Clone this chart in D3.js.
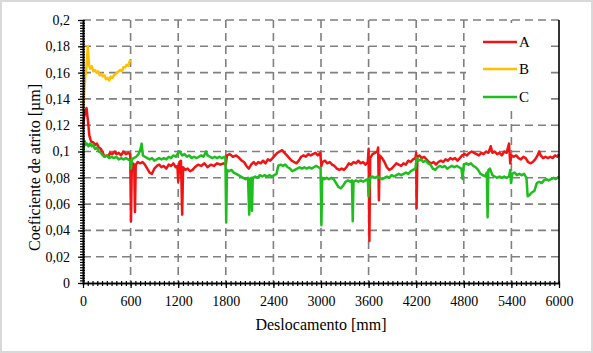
<!DOCTYPE html>
<html>
<head>
<meta charset="utf-8">
<script src="https://cdn.jsdelivr.net/npm/d3@7"></script>
<style>
  body { margin: 0; background: #fff; }
  svg { display: block; }
</style>
</head>
<body>
<svg id="chart" width="593" height="353"></svg>
<script>
// Axis ticks
const xTicks = [0, 600, 1200, 1800, 2400, 3000, 3600, 4200, 4800, 5400, 6000];
const yTicks = [0, 0.02, 0.04, 0.06, 0.08, 0.1, 0.12, 0.14, 0.16, 0.18, 0.2];

// Series names / colours
const seriesNames = ["A", "B", "C"];
const seriesColors = ["#f01414", "#ffc000", "#1ebe1e"];
const FONT = "'Liberation Serif'";

// Series A [deslocamento, coeficiente]
const dataA = [
  [0,0.118],[15,0.126],[30,0.131],[45,0.133],[55,0.127],[65,0.122],[80,0.112],[95,0.109],[110,0.107],
  [130,0.107],[150,0.105],[175,0.106],[200,0.103],[225,0.102],[250,0.099],[270,0.096],[300,0.097],
  [320,0.096],[340,0.099],[370,0.098],[400,0.100],[420,0.098],[450,0.099],[480,0.097],[510,0.100],
  [540,0.098],[570,0.099],[595,0.098],[605,0.047],[615,0.088],[630,0.091],[645,0.090],[655,0.054],
  [665,0.090],[690,0.092],[720,0.091],[750,0.092],[780,0.090],[810,0.087],[840,0.084],[870,0.083],
  [900,0.087],[930,0.089],[960,0.090],[990,0.088],[1020,0.089],[1050,0.087],[1080,0.090],[1110,0.089],
  [1140,0.091],[1170,0.088],[1190,0.089],[1200,0.077],[1215,0.092],[1235,0.093],[1250,0.052],[1262,0.088],
  [1290,0.086],[1320,0.087],[1350,0.085],[1380,0.086],[1410,0.088],[1450,0.090],[1490,0.089],[1530,0.091],
  [1570,0.088],[1610,0.090],[1650,0.089],[1690,0.091],[1730,0.090],[1770,0.091],[1800,0.090],[1815,0.097],
  [1850,0.098],[1890,0.096],[1930,0.097],[1970,0.095],[2000,0.093],[2030,0.092],[2060,0.089],[2090,0.087],
  [2120,0.090],[2150,0.092],[2180,0.090],[2210,0.092],[2240,0.091],[2270,0.093],[2300,0.091],[2330,0.094],
  [2360,0.093],[2390,0.095],[2420,0.097],[2450,0.099],[2480,0.100],[2510,0.101],[2540,0.099],[2570,0.097],
  [2600,0.095],[2630,0.093],[2660,0.092],[2690,0.091],[2720,0.093],[2750,0.096],[2780,0.097],[2810,0.096],
  [2840,0.098],[2870,0.097],[2900,0.098],[2930,0.099],[2960,0.097],[2990,0.099],[3005,0.089],[3020,0.092],
  [3050,0.093],[3080,0.091],[3110,0.092],[3140,0.090],[3170,0.089],[3200,0.087],[3230,0.086],[3260,0.087],
  [3290,0.086],[3320,0.088],[3350,0.091],[3380,0.090],[3410,0.092],[3440,0.091],[3470,0.093],[3500,0.091],
  [3530,0.092],[3560,0.090],[3590,0.092],[3600,0.102],[3610,0.032],[3620,0.095],[3650,0.098],[3680,0.099],
  [3710,0.100],[3720,0.103],[3730,0.063],[3740,0.097],[3770,0.095],[3800,0.092],[3830,0.088],[3860,0.086],
  [3890,0.087],[3920,0.089],[3950,0.091],[3980,0.090],[4010,0.089],[4040,0.091],[4070,0.090],[4100,0.093],
  [4130,0.092],[4160,0.094],[4190,0.095],[4200,0.099],[4205,0.057],[4215,0.096],[4240,0.097],[4270,0.095],
  [4300,0.096],[4330,0.094],[4360,0.092],[4390,0.091],[4420,0.092],[4450,0.090],[4480,0.092],[4510,0.093],
  [4540,0.092],[4570,0.094],[4600,0.093],[4630,0.095],[4660,0.094],[4690,0.095],[4720,0.093],[4750,0.095],
  [4780,0.097],[4810,0.098],[4840,0.097],[4870,0.099],[4900,0.100],[4930,0.099],[4960,0.098],[4990,0.097],
  [5020,0.099],[5050,0.098],[5080,0.100],[5110,0.099],[5140,0.104],[5160,0.099],[5190,0.100],[5220,0.098],
  [5250,0.099],[5280,0.097],[5310,0.100],[5340,0.099],[5370,0.106],[5385,0.091],[5400,0.097],[5430,0.096],
  [5460,0.097],[5490,0.095],[5520,0.094],[5550,0.096],[5580,0.095],[5610,0.092],[5640,0.091],[5670,0.092],
  [5700,0.094],[5730,0.097],[5750,0.100],[5770,0.097],[5800,0.095],[5830,0.096],[5860,0.095],[5890,0.096],
  [5920,0.095],[5950,0.097],[5980,0.096],[6000,0.098]
];

// Series B
const dataB = [
  [0,0.132],[15,0.145],[30,0.158],[45,0.165],[60,0.180],[75,0.166],[90,0.163],[110,0.165],[130,0.161],
  [150,0.162],[170,0.160],[190,0.161],[210,0.158],[230,0.159],[250,0.157],[270,0.158],[290,0.155],
  [310,0.156],[330,0.154],[350,0.157],[370,0.156],[390,0.158],[410,0.159],[430,0.160],[450,0.161],
  [470,0.162],[490,0.161],[510,0.164],[530,0.164],[550,0.166],[570,0.165],[590,0.169],[600,0.168]
];

// Series C
const dataC = [
  [0,0.095],[10,0.104],[20,0.108],[35,0.105],[50,0.106],[70,0.104],[90,0.106],[110,0.104],[130,0.105],
  [150,0.102],[175,0.103],[200,0.100],[225,0.099],[250,0.097],[275,0.096],[300,0.097],[330,0.095],
  [360,0.096],[390,0.095],[420,0.096],[450,0.094],[480,0.095],[510,0.094],[540,0.095],[570,0.094],
  [595,0.093],[605,0.087],[615,0.094],[640,0.095],[670,0.096],[700,0.098],[720,0.101],[740,0.106],
  [755,0.097],[780,0.096],[810,0.095],[840,0.094],[870,0.095],[900,0.093],[930,0.094],[960,0.095],
  [990,0.094],[1020,0.095],[1050,0.094],[1080,0.096],[1110,0.095],[1140,0.097],[1170,0.096],[1200,0.099],
  [1220,0.100],[1250,0.097],[1280,0.098],[1310,0.096],[1340,0.097],[1370,0.095],[1400,0.096],[1430,0.095],
  [1460,0.096],[1490,0.097],[1520,0.096],[1550,0.100],[1570,0.097],[1600,0.096],[1630,0.095],[1660,0.096],
  [1690,0.095],[1720,0.096],[1750,0.095],[1780,0.096],[1795,0.095],[1805,0.046],[1815,0.086],[1840,0.085],
  [1870,0.086],[1900,0.084],[1930,0.083],[1960,0.082],[1990,0.081],[2020,0.080],[2050,0.079],[2080,0.080],
  [2095,0.052],[2105,0.079],[2120,0.080],[2130,0.055],[2140,0.080],[2170,0.081],[2200,0.080],[2230,0.082],
  [2260,0.081],[2290,0.082],[2320,0.081],[2350,0.082],[2380,0.081],[2410,0.082],[2440,0.083],[2460,0.089],
  [2490,0.090],[2520,0.089],[2550,0.090],[2580,0.088],[2610,0.087],[2640,0.085],[2670,0.086],[2700,0.087],
  [2730,0.088],[2760,0.087],[2790,0.088],[2820,0.087],[2850,0.088],[2880,0.087],[2910,0.088],[2940,0.089],
  [2970,0.088],[2995,0.087],[3005,0.044],[3015,0.080],[3040,0.079],[3070,0.080],[3100,0.079],[3130,0.080],
  [3160,0.079],[3190,0.076],[3220,0.073],[3250,0.072],[3280,0.074],[3310,0.077],[3340,0.078],[3370,0.077],
  [3390,0.078],[3400,0.047],[3410,0.077],[3440,0.078],[3470,0.077],[3500,0.078],[3530,0.077],[3560,0.078],
  [3590,0.079],[3600,0.066],[3615,0.080],[3650,0.081],[3680,0.080],[3710,0.081],[3740,0.080],[3770,0.079],
  [3800,0.080],[3830,0.081],[3860,0.080],[3890,0.082],[3920,0.081],[3950,0.082],[3980,0.083],[4010,0.082],
  [4040,0.083],[4070,0.084],[4100,0.083],[4130,0.085],[4160,0.086],[4190,0.087],[4205,0.095],[4230,0.093],
  [4260,0.094],[4290,0.092],[4320,0.093],[4350,0.091],[4380,0.090],[4410,0.087],[4440,0.086],[4470,0.088],
  [4500,0.089],[4530,0.088],[4560,0.089],[4590,0.087],[4620,0.088],[4650,0.089],[4680,0.088],[4710,0.089],
  [4740,0.088],[4770,0.087],[4785,0.079],[4800,0.090],[4830,0.091],[4860,0.090],[4890,0.091],[4920,0.089],
  [4950,0.088],[4980,0.086],[5010,0.083],[5040,0.082],[5070,0.081],[5090,0.084],[5100,0.050],[5110,0.086],
  [5130,0.087],[5160,0.082],[5190,0.081],[5220,0.080],[5250,0.081],[5280,0.080],[5310,0.081],[5340,0.080],
  [5370,0.081],[5385,0.086],[5395,0.076],[5410,0.083],[5440,0.084],[5470,0.082],[5500,0.083],[5530,0.082],
  [5560,0.083],[5590,0.080],[5605,0.066],[5630,0.067],[5660,0.069],[5690,0.070],[5720,0.076],[5750,0.077],
  [5780,0.076],[5810,0.078],[5840,0.079],[5870,0.078],[5900,0.079],[5930,0.080],[5960,0.079],[6000,0.081]
];

const seriesData = [dataA, dataB, dataC];

// Layout
const plot = { left: 83, right: 559, top: 20, bottom: 283 };
const svg = d3.select("#chart");

// Chart border (light gray frame)
svg.append("rect")
  .attr("x", 1).attr("y", 1)
  .attr("width", 591).attr("height", 351)
  .attr("fill", "#fff")
  .attr("stroke", "#d9d9d9")
  .attr("stroke-width", 2);

const x = d3.scaleLinear().domain([0, 6000]).range([plot.left, plot.right]);
const y = d3.scaleLinear().domain([0, 0.2]).range([plot.bottom, plot.top]);

// Gridlines
const grid = svg.append("g")
  .attr("stroke", "#808080")
  .attr("stroke-width", 1.6)
  .attr("stroke-dasharray", "8,5");

grid.selectAll(".hg")
  .data(yTicks.filter(d => d > 0))
  .join("line")
  .attr("x1", plot.left).attr("x2", plot.right)
  .attr("y1", d => y(d)).attr("y2", d => y(d));

grid.selectAll(".vg")
  .data(xTicks.filter(d => d > 0 && d < 6000))
  .join("line")
  .attr("x1", d => x(d)).attr("x2", d => x(d))
  .attr("y1", plot.top).attr("y2", plot.bottom);

// Legend background (covers the grid)
svg.append("rect")
  .attr("x", 466).attr("y", 23)
  .attr("width", 80).attr("height", 85)
  .attr("fill", "#fff");

// Lines
const line = d3.line()
  .x(d => x(d[0]))
  .y(d => y(d[1]));

svg.append("g")
  .selectAll("path")
  .data(seriesData)
  .join("path")
  .attr("d", line)
  .attr("fill", "none")
  .attr("stroke", (d, i) => seriesColors[i])
  .attr("stroke-width", 2.5)
  .attr("stroke-linejoin", "round");

// Axes
const fmtY = d => d === 0 ? "0" : String(+d.toFixed(2)).replace(".", ",");

const yAxis = svg.append("g")
  .attr("transform", `translate(${plot.left},0)`)
  .call(d3.axisLeft(y).tickValues(yTicks).tickFormat(fmtY).tickSize(5).tickPadding(8).tickSizeOuter(0));

const yMinor = svg.append("g")
  .attr("transform", `translate(${plot.left},0)`)
  .call(d3.axisLeft(y).tickValues(d3.range(0, 101).map(i => i * 0.002)).tickFormat("").tickSize(3).tickSizeOuter(0));

const xAxis = svg.append("g")
  .attr("transform", `translate(0,${plot.bottom})`)
  .call(d3.axisBottom(x).tickValues(xTicks).tickFormat(d3.format("d")).tickSize(5).tickPadding(8).tickSizeOuter(0));

const xMinor = svg.append("g")
  .attr("transform", `translate(0,${plot.bottom})`)
  .call(d3.axisBottom(x).tickValues(d3.range(0, 101).map(i => i * 60)).tickFormat("").tickSize(3).tickSizeOuter(0));

[yAxis, yMinor, xAxis, xMinor].forEach(g => {
  g.select(".domain").attr("stroke", "#000").attr("stroke-width", 1.6);
  g.selectAll(".tick line").attr("stroke", "#000").attr("stroke-width", 1.2);
  g.selectAll("text").style("font-family", FONT).attr("font-size", 14).attr("fill", "#000");
});
yMinor.selectAll(".tick line").attr("x1", 2);
xMinor.selectAll(".tick line").attr("y1", -2);

// Right border of plot area
svg.append("line")
  .attr("x1", plot.right).attr("x2", plot.right)
  .attr("y1", plot.top).attr("y2", plot.bottom)
  .attr("stroke", "#000").attr("stroke-width", 1.6);

// Axis titles
svg.append("text")
  .attr("x", (plot.left + plot.right) / 2)
  .attr("y", 330)
  .attr("text-anchor", "middle")
  .attr("font-size", 16)
  .style("font-family", FONT)
  .text("Deslocamento [mm]");

svg.append("text")
  .attr("transform", `translate(40,${(plot.top + plot.bottom) / 2 + 16}) rotate(-90)`)
  .attr("text-anchor", "middle")
  .attr("font-size", 16)
  .style("font-family", FONT)
  .text("Coeficiente de atrito [µm]");

// Legend
const legendY = [42, 69, 97];
const legend = svg.append("g");
seriesNames.forEach((name, i) => {
  legend.append("line")
    .attr("x1", 483).attr("x2", 517)
    .attr("y1", legendY[i]).attr("y2", legendY[i])
    .attr("stroke", seriesColors[i])
    .attr("stroke-width", 2.5);
  legend.append("text")
    .attr("x", 519).attr("y", legendY[i] + 5)
    .attr("font-size", 15)
    .style("font-family", FONT)
    .text(name);
});
</script>
</body>
</html>
